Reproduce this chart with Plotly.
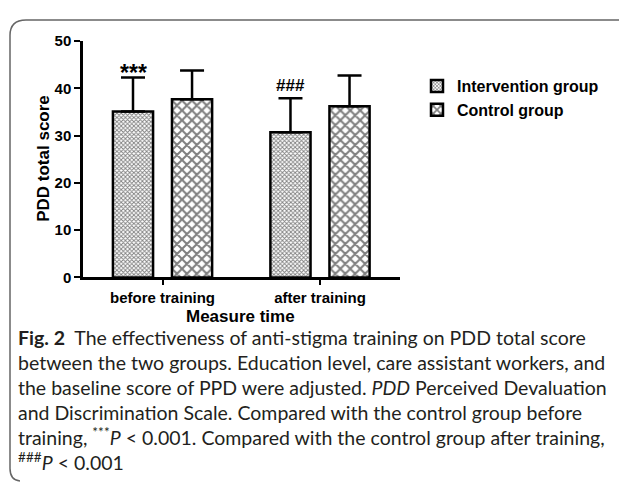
import plotly.graph_objects as go

# the page body keeps its default 8px margin; keep the figure inside the window
PAGE_W, PAGE_H = 627, 496
OFF = 8
W, H = PAGE_W - 2 * OFF, PAGE_H - 2 * OFF

# data
categories = ['before training', 'after training']
intervention_mean = [35.1, 30.7]
intervention_sd = [7.2, 7.2]
control_mean = [37.7, 36.2]
control_sd = [6.1, 6.5]
marks = ['***', '###']

caption_lines = [
    '<b>Fig. 2</b>  The effectiveness of anti-stigma training on PDD total score',
    'between the two groups. Education level, care assistant workers, and',
    'the baseline score of PPD were adjusted. <i>PDD</i> Perceived Devaluation',
    'and Discrimination Scale. Compared with the control group before',
    'training, <sup>***</sup><i>P</i> &lt; 0.001. Compared with the control group after training,',
    '<sup>###</sup><i>P</i> &lt; 0.001',
]


def fx(px):
    # page pixel -> paper fraction
    return (px - OFF) / W


def fy(py):
    return 1 - (py - OFF) / H


BOLD = 'Arial, Liberation Sans'

fig = go.Figure()

fig.add_trace(go.Bar(
    x=categories, y=intervention_mean, name='<b>Intervention group</b>',
    marker=dict(color='white', line=dict(color='black', width=2.5),
                pattern=dict(shape='x', size=3, solidity=0.5, fgcolor='black', bgcolor='white')),
    error_y=dict(type='data', symmetric=False, array=intervention_sd, arrayminus=[0, 0],
                 color='black', thickness=2.5, width=12),
))
fig.add_trace(go.Bar(
    x=categories, y=control_mean, name='<b>Control group</b>',
    marker=dict(color='white', line=dict(color='black', width=2.5),
                pattern=dict(shape='x', size=7, solidity=0.5, fgcolor='black', bgcolor='white')),
    error_y=dict(type='data', symmetric=False, array=control_sd, arrayminus=[0, 0],
                 color='black', thickness=2.5, width=12),
))

# significance marks above the intervention bars
mark_size = [23, 17]
mark_shift = [-10, 1]
for i, (cat, m, s, mk) in enumerate(zip(categories, intervention_mean, intervention_sd, marks)):
    fig.add_annotation(x=cat, y=m + s, xref='x', yref='y', text='<b>' + mk + '</b>',
                       showarrow=False, xshift=-29.5, yanchor='bottom', yshift=mark_shift[i],
                       font=dict(family=BOLD, size=mark_size[i], color='black'))

# axis titles
fig.add_annotation(x=fx(241), y=fy(318), xref='paper', yref='paper', text='<b>Measure time</b>',
                   showarrow=False, xanchor='center', yanchor='middle',
                   font=dict(family=BOLD, size=17, color='black'))
fig.add_annotation(x=fx(44), y=fy(155), xref='paper', yref='paper', text='<b>PDD total score</b>',
                   showarrow=False, xanchor='center', yanchor='middle', textangle=-90,
                   font=dict(family=BOLD, size=17, color='black'))

# caption
for i, line in enumerate(caption_lines):
    fig.add_annotation(x=fx(16), y=fy(354 + 26 * i), xref='paper', yref='paper',
                       text=line, showarrow=False, xanchor='left', yanchor='bottom',
                       font=dict(family='Lato', size=19.5, color='#231f20'))

# rounded frame (left and top edges)
r = 16
frame = (f'M {fx(OFF + W)} {fy(11)} L {fx(10 + r)} {fy(11)} '
         f'Q {fx(10)} {fy(11)} {fx(10)} {fy(11 + r)} '
         f'L {fx(10)} {fy(476)} Q {fx(10)} {fy(488)} {fx(20)} {fy(489)}')
fig.add_shape(type='path', path=frame, xref='paper', yref='paper',
              line=dict(color='#666666', width=1.5))

fig.update_layout(
    width=W, height=H,
    margin=dict(l=0, r=0, t=0, b=0),
    paper_bgcolor='white', plot_bgcolor='white',
    barmode='group', bargap=0.25, bargroupgap=0.32,
    showlegend=True,
    legend=dict(x=fx(417), y=fy(62), xanchor='left', yanchor='top',
                font=dict(family=BOLD, size=16, color='black'),
                tracegroupgap=0, itemwidth=30),
    font=dict(family=BOLD, color='black'),
)

fig.update_xaxes(
    domain=[fx(83), fx(400)], range=[-0.505, 1.508],
    showline=True, linecolor='black', linewidth=2.5,
    ticks='outside', ticklen=5, tickwidth=2, tickcolor='black',
    tickfont=dict(family=BOLD, size=15, color='black'),
    tickprefix='<b>', ticksuffix='</b>',
    showgrid=False, zeroline=False,
)
fig.update_yaxes(
    domain=[fy(278), fy(33)], range=[0, 50], dtick=10,
    showline=True, linecolor='black', linewidth=2.5,
    ticks='outside', ticklen=6, tickwidth=2, tickcolor='black',
    tickfont=dict(family=BOLD, size=15, color='black'),
    tickprefix='<b>', ticksuffix='</b>',
    showgrid=False, zeroline=False,
)

fig.write_html('out.html', config={'displayModeBar': False})
